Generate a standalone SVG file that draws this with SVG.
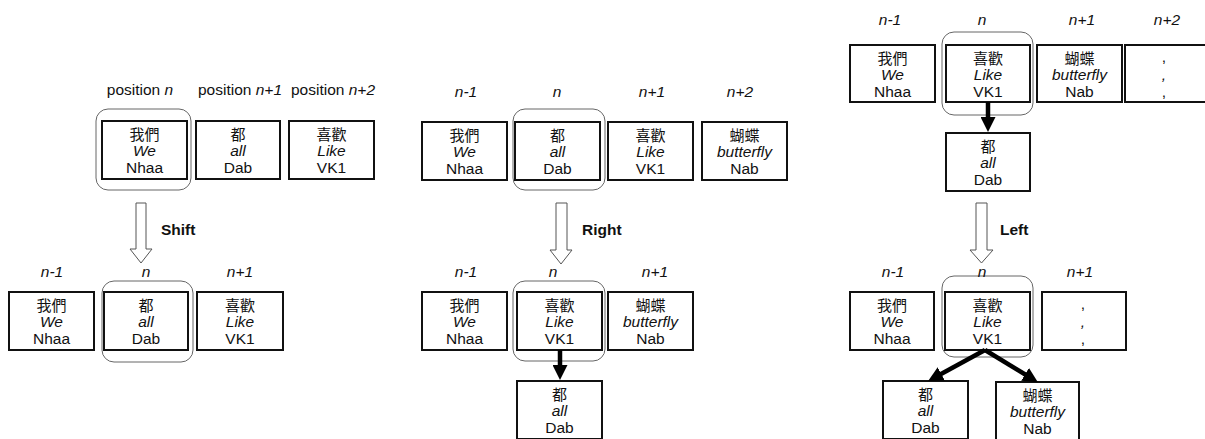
<svg xmlns="http://www.w3.org/2000/svg" width="1205" height="439" viewBox="0 0 1205 439">
  <style>
    text { font-family: "Liberation Sans", "Noto Sans CJK TC", Arial, sans-serif; font-size: 15.5px; fill: #111; }
    .c { text-anchor: middle; }
    .zh { font-family: "Noto Sans CJK TC", "Liberation Sans", sans-serif; font-size: 15px; }
    .it { font-style: italic; }
    .op { font-weight: bold; font-size: 15.5px; }
    .box { fill: #fff; stroke: #111; stroke-width: 2; }
    .focus { fill: none; stroke: #666; stroke-width: 1; }
    .hollow { fill: #fff; stroke: #555; stroke-width: 1; }
    .dep { stroke: #000; stroke-width: 4.5; fill: none; marker-end: url(#head); }
  </style>
  <defs>
    <marker id="head" viewBox="0 0 10 10" refX="4" refY="5" markerWidth="15" markerHeight="15" markerUnits="userSpaceOnUse" orient="auto">
      <path d="M0,0 L10,5 L0,10 z" fill="#000"/>
    </marker>
  </defs>

  <!-- ===== Shift ===== -->
  <g id="shift-labels">
    <text class="c" x="140" y="95">position <tspan class="it">n</tspan></text>
    <text class="c" x="240" y="95">position <tspan class="it">n+1</tspan></text>
    <text class="c" x="333" y="95">position <tspan class="it">n+2</tspan></text>
  </g>
  <rect class="focus" x="96" y="109" width="95" height="81" rx="12"/>
  <g id="s1-women">
    <rect class="box" x="102" y="121" width="85" height="58"/>
    <text class="c zh" x="144.5" y="140">我們</text><text class="c it" x="144.5" y="156">We</text><text class="c" x="144.5" y="173">Nhaa</text>
  </g>
  <g id="s1-dou">
    <rect class="box" x="196" y="121" width="84" height="58"/>
    <text class="c zh" x="238" y="140">都</text><text class="c it" x="238" y="156">all</text><text class="c" x="238" y="173">Dab</text>
  </g>
  <g id="s1-xihuan">
    <rect class="box" x="289" y="121" width="85" height="58"/>
    <text class="c zh" x="331.5" y="140">喜歡</text><text class="c it" x="331.5" y="156">Like</text><text class="c" x="331.5" y="173">VK1</text>
  </g>
  <g id="op-shift">
    <polygon class="hollow" points="136,203 146,203 146,249 152,249 141,263 130,249 136,249"/>
    <text class="op" x="161" y="235">Shift</text>
  </g>
  <g id="shift-labels-after">
    <text class="c it" x="52" y="277">n-1</text>
    <text class="c it" x="146" y="277">n</text>
    <text class="c it" x="240" y="277">n+1</text>
  </g>
  <rect class="focus" x="102" y="281" width="91" height="81" rx="12"/>
  <g id="s2-women">
    <rect class="box" x="9" y="292" width="85" height="58"/>
    <text class="c zh" x="51.5" y="311">我們</text><text class="c it" x="51.5" y="327">We</text><text class="c" x="51.5" y="344">Nhaa</text>
  </g>
  <g id="s2-dou">
    <rect class="box" x="104" y="292" width="84" height="58"/>
    <text class="c zh" x="146" y="311">都</text><text class="c it" x="146" y="327">all</text><text class="c" x="146" y="344">Dab</text>
  </g>
  <g id="s2-xihuan">
    <rect class="box" x="197" y="292" width="86" height="58"/>
    <text class="c zh" x="240" y="311">喜歡</text><text class="c it" x="240" y="327">Like</text><text class="c" x="240" y="344">VK1</text>
  </g>

  <!-- ===== Right ===== -->
  <g id="right-labels">
    <text class="c it" x="466" y="97">n-1</text>
    <text class="c it" x="557" y="97">n</text>
    <text class="c it" x="652" y="97">n+1</text>
    <text class="c it" x="740" y="97">n+2</text>
  </g>
  <rect class="focus" x="513" y="109" width="92" height="81" rx="12"/>
  <g id="r1-women">
    <rect class="box" x="422" y="122" width="85" height="58"/>
    <text class="c zh" x="464.5" y="141">我們</text><text class="c it" x="464.5" y="157">We</text><text class="c" x="464.5" y="174">Nhaa</text>
  </g>
  <g id="r1-dou">
    <rect class="box" x="515" y="122" width="85" height="58"/>
    <text class="c zh" x="557.5" y="141">都</text><text class="c it" x="557.5" y="157">all</text><text class="c" x="557.5" y="174">Dab</text>
  </g>
  <g id="r1-xihuan">
    <rect class="box" x="608" y="122" width="85" height="58"/>
    <text class="c zh" x="650.5" y="141">喜歡</text><text class="c it" x="650.5" y="157">Like</text><text class="c" x="650.5" y="174">VK1</text>
  </g>
  <g id="r1-hudie">
    <rect class="box" x="702" y="122" width="85" height="58"/>
    <text class="c zh" x="744.5" y="141">蝴蝶</text><text class="c it" x="744.5" y="157">butterfly</text><text class="c" x="744.5" y="174">Nab</text>
  </g>
  <g id="op-right">
    <polygon class="hollow" points="556,203 567,203 567,250 572,250 561,264 550,250 556,250"/>
    <text class="op" x="582" y="235">Right</text>
  </g>
  <g id="right-labels-after">
    <text class="c it" x="466" y="277">n-1</text>
    <text class="c it" x="553" y="277">n</text>
    <text class="c it" x="655" y="277">n+1</text>
  </g>
  <rect class="focus" x="513" y="281" width="92" height="80" rx="12"/>
  <g id="r2-women">
    <rect class="box" x="422" y="292" width="85" height="58"/>
    <text class="c zh" x="464.5" y="311">我們</text><text class="c it" x="464.5" y="327">We</text><text class="c" x="464.5" y="344">Nhaa</text>
  </g>
  <g id="r2-xihuan">
    <rect class="box" x="517" y="292" width="85" height="58"/>
    <text class="c zh" x="559.5" y="311">喜歡</text><text class="c it" x="559.5" y="327">Like</text><text class="c" x="559.5" y="344">VK1</text>
  </g>
  <g id="r2-hudie">
    <rect class="box" x="608" y="292" width="85" height="58"/>
    <text class="c zh" x="650.5" y="311">蝴蝶</text><text class="c it" x="650.5" y="327">butterfly</text><text class="c" x="650.5" y="344">Nab</text>
  </g>
  <g id="r2-dou">
    <rect class="box" x="517" y="381" width="85" height="58"/>
    <text class="c zh" x="559.5" y="400">都</text><text class="c it" x="559.5" y="416">all</text><text class="c" x="559.5" y="433">Dab</text>
  </g>

  <!-- ===== Left ===== -->
  <g id="left-labels">
    <text class="c it" x="890" y="25">n-1</text>
    <text class="c it" x="982" y="25">n</text>
    <text class="c it" x="1082" y="25">n+1</text>
    <text class="c it" x="1167" y="25">n+2</text>
  </g>
  <rect class="focus" x="942" y="32" width="91" height="83" rx="12"/>
  <g id="l1-women">
    <rect class="box" x="850" y="45" width="85" height="57"/>
    <text class="c zh" x="892.5" y="64">我們</text><text class="c it" x="892.5" y="80">We</text><text class="c" x="892.5" y="97">Nhaa</text>
  </g>
  <g id="l1-xihuan">
    <rect class="box" x="946" y="45" width="84" height="57"/>
    <text class="c zh" x="988" y="64">喜歡</text><text class="c it" x="988" y="80">Like</text><text class="c" x="988" y="97">VK1</text>
  </g>
  <g id="l1-hudie">
    <rect class="box" x="1037" y="45" width="85" height="57"/>
    <text class="c zh" x="1079.5" y="64">蝴蝶</text><text class="c it" x="1079.5" y="80">butterfly</text><text class="c" x="1079.5" y="97">Nab</text>
  </g>
  <g id="l1-comma">
    <rect class="box" x="1125" y="45" width="85" height="57"/>
    <text class="c" x="1164" y="62">,</text><text class="c it" x="1164" y="80">,</text><text class="c" x="1164" y="97">,</text>
  </g>
  <g id="l1-dou">
    <rect class="box" x="946" y="133" width="84" height="58"/>
    <text class="c zh" x="988" y="152">都</text><text class="c it" x="988" y="168">all</text><text class="c" x="988" y="185">Dab</text>
  </g>
  <g id="op-left">
    <polygon class="hollow" points="976,203 987,203 987,250 993,250 981.5,263 970,250 976,250"/>
    <text class="op" x="1000" y="235">Left</text>
  </g>
  <rect class="focus" x="942" y="276" width="91" height="81" rx="12"/>
  <g id="left-labels-after">
    <text class="c it" x="893" y="277">n-1</text>
    <text class="c it" x="982" y="277">n</text>
    <text class="c it" x="1080" y="277">n+1</text>
  </g>
  <g id="l2-women">
    <rect class="box" x="850" y="292" width="84" height="58"/>
    <text class="c zh" x="892" y="311">我們</text><text class="c it" x="892" y="327">We</text><text class="c" x="892" y="344">Nhaa</text>
  </g>
  <g id="l2-xihuan">
    <rect class="box" x="945" y="292" width="85" height="58"/>
    <text class="c zh" x="987.5" y="311">喜歡</text><text class="c it" x="987.5" y="327">Like</text><text class="c" x="987.5" y="344">VK1</text>
  </g>
  <g id="l2-comma">
    <rect class="box" x="1042" y="292" width="84" height="58"/>
    <text class="c" x="1083" y="309">,</text><text class="c it" x="1083" y="327">,</text><text class="c" x="1083" y="344">,</text>
  </g>
  <g id="l2-dou">
    <rect class="box" x="883" y="381" width="85" height="58"/>
    <text class="c zh" x="925.5" y="400">都</text><text class="c it" x="925.5" y="416">all</text><text class="c" x="925.5" y="433">Dab</text>
  </g>
  <g id="l2-hudie">
    <rect class="box" x="996" y="382" width="83" height="58"/>
    <text class="c zh" x="1037.5" y="401">蝴蝶</text><text class="c it" x="1037.5" y="417">butterfly</text><text class="c" x="1037.5" y="434">Nab</text>
  </g>

  <!-- dependency arcs (head -> dependent) -->
  <g id="connectors">
    <line class="dep" x1="560" y1="350" x2="560" y2="371"/>
    <line class="dep" x1="988" y1="102" x2="988" y2="123"/>
    <line class="dep" x1="985" y1="350" x2="936" y2="376.8"/>
    <line class="dep" x1="985" y1="350" x2="1030.2" y2="377.5"/>
  </g>
</svg>
